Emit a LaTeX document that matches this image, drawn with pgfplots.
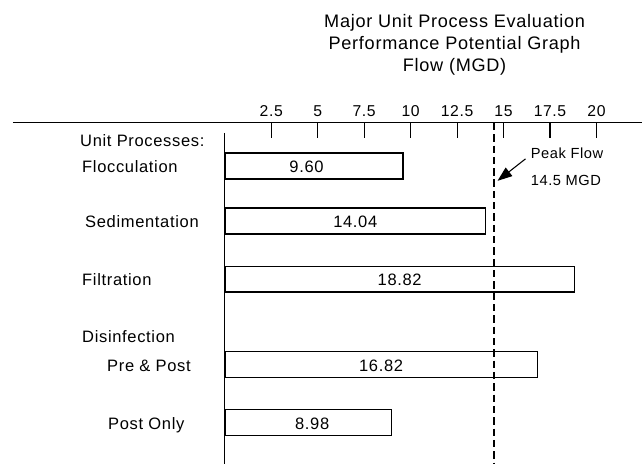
\documentclass[border=0pt]{standalone}
\usepackage{fontspec}
\setmainfont{Liberation Sans}[LetterSpace=4]
\usepackage{pgfplots}
\pgfplotsset{compat=1.18}
\usetikzlibrary{arrows.meta}

% one data unit on y = one pixel of the reference (negated); x in MGD
\newcommand{\lbl}{\fontsize{12.4}{14}\selectfont}

\begin{document}
\begin{tikzpicture}[every node/.append style={inner sep=0pt}]
\begin{axis}[
  scale only axis,
  width=472.5pt, height=255.75pt,
  xmin=-11.398, xmax=22.473,
  ymin=-464, ymax=-123,
  axis x line*=top,
  axis y line=none,
  x axis line style={-, line width=0.9pt},
  xtick={2.5,5,7.5,10,12.5,15,17.5,20},
  xticklabels={2.5,5,7.5,10,12.5,15,17.5,20},
  tick align=inside,
  major tick length=11pt,
  tick style={black, line width=0.8pt},
  xticklabel style={font=\fontsize{11.8}{13}\selectfont, inner sep=2pt, yshift=2.5pt},
  /pgf/number format/assume math mode=true,
  clip=false,
]
% bounding box of the whole reference
\path (axis cs:-12.097,0) rectangle (axis cs:22.473,-464);

\addplot[xbar, bar width=26, fill=white, draw=black, line width=1.1pt]
  coordinates {(9.60,-166) (14.04,-221) (18.82,-279.5) (16.82,-365) (8.98,-423)};

\addplot[black, line width=1.5pt, dash pattern=on 5.5pt off 3pt]
  coordinates {(14.5,-123) (14.5,-464)};

\draw[line width=0.9pt] (axis cs:0,-133) -- (axis cs:0,-464);

% title
\node[anchor=base, font=\fontsize{13.6}{15}\selectfont] at (axis cs:12.366,-28) {Major Unit Process Evaluation};
\node[anchor=base, font=\fontsize{13.6}{15}\selectfont] at (axis cs:12.366,-50) {Performance Potential Graph};
\node[anchor=base, font=\fontsize{13.6}{15}\selectfont] at (axis cs:12.366,-72) {Flow (MGD)};

% category labels
\node[anchor=base west, font=\lbl] at (axis cs:-7.796,-147) {Unit Processes:};
\node[anchor=base west, font=\lbl] at (axis cs:-7.688,-173) {Flocculation};
\node[anchor=base west, font=\lbl] at (axis cs:-7.527,-228) {Sedimentation};
\node[anchor=base west, font=\lbl] at (axis cs:-7.688,-286) {Filtration};
\node[anchor=base west, font=\lbl] at (axis cs:-7.688,-343) {Disinfection};
\node[anchor=base west, font=\lbl] at (axis cs:-6.344,-372) {Pre \& Post};
\node[anchor=base west, font=\lbl] at (axis cs:-6.290,-430) {Post Only};

% values inside bars
\node[anchor=base, font=\lbl] at (axis cs:4.40,-173) {9.60};
\node[anchor=base, font=\lbl] at (axis cs:7.02,-228) {14.04};
\node[anchor=base, font=\lbl] at (axis cs:9.41,-286) {18.82};
\node[anchor=base, font=\lbl] at (axis cs:8.41,-372) {16.82};
\node[anchor=base, font=\lbl] at (axis cs:4.70,-430) {8.98};

% peak flow note
\node[anchor=base west, font=\fontsize{11}{13}\selectfont] at (axis cs:16.452,-159) {Peak Flow};
\node[anchor=base west, font=\fontsize{11}{13}\selectfont] at (axis cs:16.452,-186) {14.5 MGD};
\draw[line width=0.8pt, -{Triangle[length=11pt, width=8pt]}] (axis cs:16.183,-159) -- (axis cs:14.677,-181);
\end{axis}
\end{tikzpicture}
\end{document}
